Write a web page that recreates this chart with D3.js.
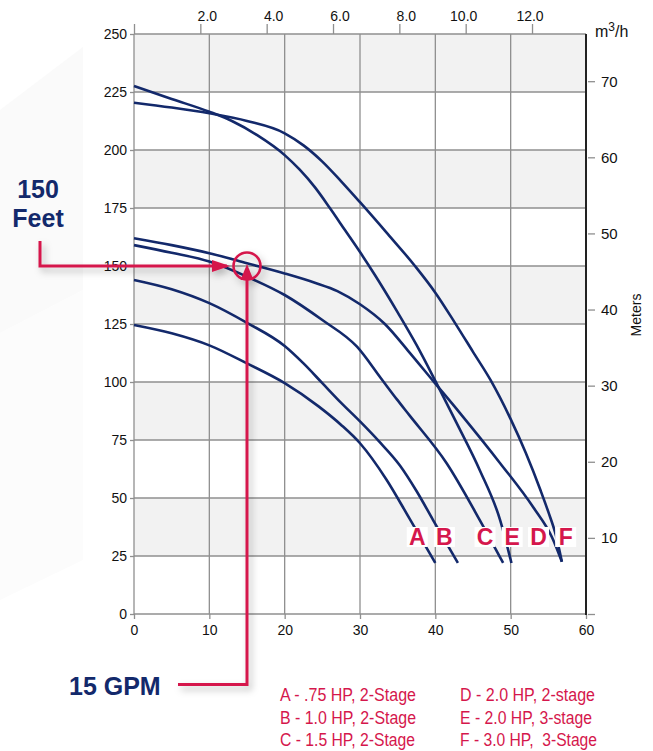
<!DOCTYPE html>
<html><head><meta charset="utf-8">
<script src="https://cdn.jsdelivr.net/npm/d3@7/dist/d3.min.js"></script>
<style>
html,body{margin:0;padding:0;background:#fff;}
svg{display:block;}
text{font-family:"Liberation Sans",Arial,Helvetica,sans-serif;}
</style></head><body>
<svg id="chart" width="653" height="751"></svg>
<script>
// ---------------- DATA ----------------
const gpmTicks = [0, 10, 20, 30, 40, 50, 60];
const feetTicks = [0, 25, 50, 75, 100, 125, 150, 175, 200, 225, 250];
const meterTicks = [0, 10, 20, 30, 40, 50, 60, 70];
const m3hTicks = [0, 2, 4, 6, 8, 10, 12];

const curveNames = ["A", "B", "C", "D", "E", "F"];
// flow (GPM) and head (feet) points for each pump curve
const curveA = [[0,124.6],[5,121],[10,115.8],[15,108],[20,99.5],[24.5,89.5],[27.5,81.5],[30,73.6],[33.5,58],[36.6,41],[40,22]];
const curveB = [[0,144],[5,140],[10,134],[15,125.5],[20,115.5],[22.5,108],[25,99.5],[27.5,91],[30,83],[32.5,74.5],[35.3,64],[37.5,53],[39.7,40.5],[43,22]];
const curveC = [[0,159],[5,155.7],[10,151.9],[15,145.4],[20,137.5],[25,126.7],[29.6,115.2],[32.8,101.5],[34.9,92.5],[36.6,85.5],[41.5,65],[45.9,40.5],[49,22]];
const curveD = [[0,162],[5,159],[10,155.5],[15,151.2],[20,146.8],[24,142.8],[27,139.2],[30,133.5],[33.3,125],[36.5,113],[39.7,100.5],[43.3,86.5],[48.6,65],[53,46],[55.5,33],[56.8,22.5]];
const curveE = [[0,227.6],[5,222],[10,216.5],[13,212.5],[16.3,206.5],[20,197.8],[22,191.5],[24,184],[26,175],[28,165.5],[30,156],[32,146],[35,130],[37.5,116],[40,100.5],[42.8,82.5],[45.9,62],[48.6,40.5],[50.1,22]];
const curveF = [[0,220.4],[5,218.3],[10,215.8],[15,212.5],[20,207.2],[22.5,202],[25,195],[27.5,186.5],[30,177.5],[33.5,164.5],[37.3,150],[40,138.5],[42.6,125.5],[45,113],[47.3,101],[50,84],[52,69.5],[54,53],[55,44],[56,34],[56.8,22.5]];
const curveData = [curveA, curveB, curveC, curveD, curveE, curveF];

// curve letter label positions (GPM, feet)
const labelGpm = [37.6, 41.2, 46.6, 53.7, 50.2, 57.3];
const labelFeet = [33.2, 33.2, 33.2, 33.2, 33.2, 33.2];

const legendCol1 = ["A - .75 HP, 2-Stage", "B - 1.0 HP, 2-Stage", "C - 1.5 HP, 2-Stage"];
const legendCol2 = ["D - 2.0 HP, 2-stage", "E - 2.0 HP, 3-stage", "F - 3.0 HP,  3-Stage"];

const exampleGpm = 15;
const exampleFeet = 150;

const FT_PER_M = 3.28084;
const GPM_PER_M3H = 4.40287;

// ---------------- LAYOUT ----------------
const svg = d3.select("#chart");
const L = 134, R = 586, T = 34, B = 614;
const navy = "#13296b", red = "#d5174c", grid = "#8f8f8f", band = "#f2f2f2";
const legendWidths = [[136, 136, 135], [135, 132, 137]];

const x = d3.scaleLinear().domain([0, 60]).range([L, R]);
const y = d3.scaleLinear().domain([0, 250]).range([B, T]);
const yM = d3.scaleLinear().domain([0, 250 / FT_PER_M]).range([B, T]);
const xM = d3.scaleLinear().domain([0, 60 / GPM_PER_M3H]).range([L, R]);

const defs = svg.append("defs");
const f = defs.append("filter").attr("id","shadow").attr("x","-50%").attr("y","-50%").attr("width","200%").attr("height","200%");
f.append("feDropShadow").attr("dx",3).attr("dy",4).attr("stdDeviation",3.5).attr("flood-color","#000").attr("flood-opacity",0.28);

// faint background shape
svg.append("polygon").attr("points","0,110 83,47 83,290 0,333").attr("fill","#fafafa");
svg.append("polygon").attr("points","0,333 83,290 83,560 0,600").attr("fill","#fcfcfc");

// bands
const bands = [];
for (let v = 0; v < 250; v += 25) if ((v / 25) % 2 === 1) bands.push(v);
svg.append("g").selectAll("rect").data(bands).join("rect")
  .attr("x", L).attr("width", R - L)
  .attr("y", d => y(d + 25)).attr("height", d => y(d) - y(d + 25))
  .attr("fill", band);

// grid
const gg = svg.append("g").attr("stroke", grid).attr("stroke-width", 1.3);
gg.selectAll("line.h").data(feetTicks).join("line").attr("class","h")
  .attr("x1", L).attr("x2", R).attr("y1", d => y(d)).attr("y2", d => y(d));
gg.selectAll("line.v").data(gpmTicks.slice(0, -1)).join("line").attr("class","v")
  .attr("y1", T).attr("y2", B).attr("x1", d => x(d)).attr("x2", d => x(d));

// axes
function styleAxis(g, size) {
  g.select(".domain").remove();
  g.selectAll(".tick line").attr("stroke", grid).attr("stroke-width", 1.3);
  g.selectAll(".tick text").attr("fill", "#111").attr("font-size", size)
    .attr("font-family", "'Liberation Sans',Arial,sans-serif");
}
const axL = svg.append("g").attr("transform", `translate(${L},0)`)
  .call(d3.axisLeft(y).tickValues(feetTicks).tickSize(4).tickPadding(3));
styleAxis(axL, 14);

const axB = svg.append("g").attr("transform", `translate(0,${B})`)
  .call(d3.axisBottom(x).tickValues(gpmTicks).tickSize(5).tickPadding(6));
styleAxis(axB, 14);

const axT = svg.append("g").attr("transform", `translate(0,${T})`)
  .call(d3.axisTop(xM).tickValues(m3hTicks).tickSize(10).tickPadding(3)
    .tickFormat(d => d === 0 ? "" : d3.format(".1f")(d)));
styleAxis(axT, 14);
axT.selectAll(".tick text").attr("dx", d => d < 10 ? 6.5 : -2.5);

const axR = svg.append("g").attr("transform", `translate(${R},0)`)
  .call(d3.axisRight(yM).tickValues(meterTicks).tickSize(9).tickPadding(6)
    .tickFormat(d => d === 0 ? "" : d));
styleAxis(axR, 15);
axR.selectAll(".tick line").attr("x1", 2);

svg.append("line").attr("x1", R).attr("x2", R).attr("y1", T).attr("y2", B + 1)
  .attr("stroke", "#222").attr("stroke-width", 2);

svg.append("text").attr("x", 595).attr("y", 37).attr("font-size", 16).attr("fill", "#111")
  .html('m<tspan dy="-6" font-size="12">3</tspan><tspan dy="6">/h</tspan>');
svg.append("text").attr("transform", "translate(641,315) rotate(-90)")
  .attr("text-anchor", "middle").attr("font-size", 14).attr("fill", "#111").text("Meters");

// curves
const line = d3.line().x(d => x(d[0])).y(d => y(d[1])).curve(d3.curveMonotoneX);
svg.append("g").selectAll("path").data(curveData).join("path")
  .attr("d", line).attr("fill", "none").attr("stroke", navy).attr("stroke-width", 2.6);

// curve labels
const lab = svg.append("g").selectAll("g").data(curveNames).join("g")
  .attr("transform", (d, i) => `translate(${x(labelGpm[i])},${y(labelFeet[i])})`);
lab.append("rect").attr("x", -10.5).attr("y", -10).attr("width", 21).attr("height", 20).attr("fill", "#fff");
lab.append("text").attr("text-anchor", "middle").attr("dy", 8.3)
  .attr("font-size", 23).attr("font-weight", "bold").attr("fill", red).text(d => d);

// annotation
const px = x(exampleGpm), py = y(exampleFeet);
const ann = svg.append("g").attr("filter", "url(#shadow)");
ann.append("path").attr("d", `M40,241 V${py} H${px - 20}`)
  .attr("fill", "none").attr("stroke", red).attr("stroke-width", 3);
ann.append("path").attr("d", `M${px - 35},${py - 6} L${px - 17},${py} L${px - 35},${py + 6} Z`).attr("fill", red);
ann.append("path").attr("d", `M178,684.5 H${px} V${py + 14}`)
  .attr("fill", "none").attr("stroke", red).attr("stroke-width", 3);
ann.append("path").attr("d", `M${px - 6.5},${py + 14} L${px},${py - 2} L${px + 6.5},${py + 14} Z`).attr("fill", red);
ann.append("circle").attr("cx", px).attr("cy", py).attr("r", 13.5)
  .attr("fill", "none").attr("stroke", red).attr("stroke-width", 2.6);

svg.append("text").attr("x", 38).attr("y", 198).attr("text-anchor", "middle")
  .attr("font-size", 25).attr("font-weight", "bold").attr("fill", navy).text("150");
svg.append("text").attr("x", 38).attr("y", 227).attr("text-anchor", "middle")
  .attr("font-size", 25).attr("font-weight", "bold").attr("fill", navy).text("Feet");
svg.append("text").attr("x", 69).attr("y", 695)
  .attr("font-size", 25).attr("font-weight", "bold").attr("fill", navy).text("15 GPM");

// legend
[legendCol1, legendCol2].forEach((col, ci) => {
  svg.append("g").selectAll("text").data(col).join("text")
    .attr("x", ci === 0 ? 280 : 460).attr("y", (d, i) => 701 + i * 22.5)
    .attr("font-size", 17.5).attr("fill", red)
    .attr("textLength", (d, i) => legendWidths[ci][i])
    .attr("lengthAdjust", "spacingAndGlyphs")
    .style("white-space", "pre")
    .text(d => d);
});
</script>
</body></html>
